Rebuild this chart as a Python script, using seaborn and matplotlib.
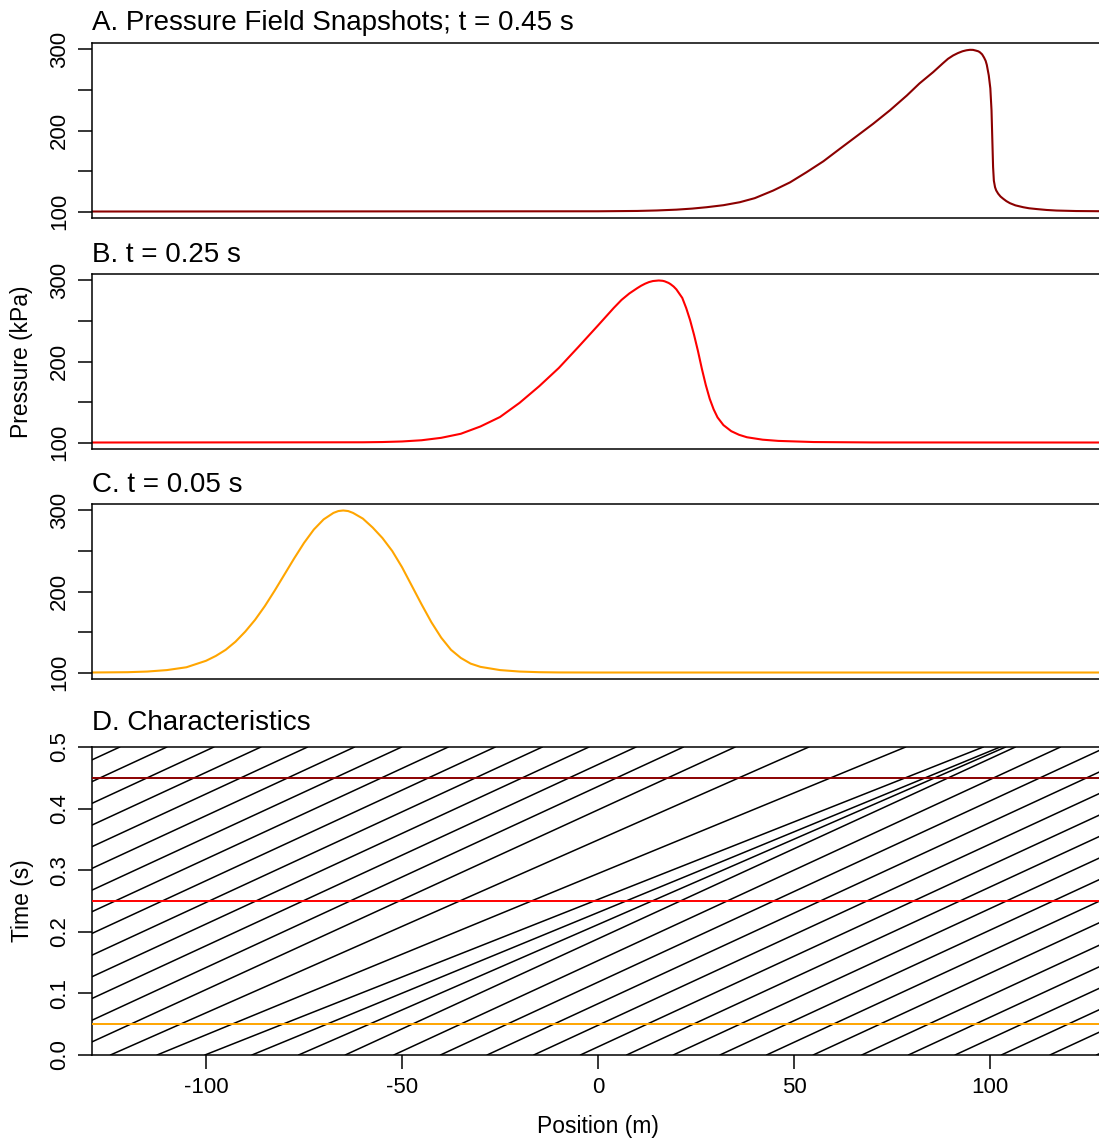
import numpy as np
import pandas as pd
import matplotlib
matplotlib.use("Agg")
import matplotlib.pyplot as plt
import seaborn as sns

# ---------------- data ----------------
# Panel A: t = 0.45 s
x_a = [-130, 0, 10, 15, 20, 24, 27.7, 32, 36.2, 40, 44.7, 49, 53.2, 57.5, 61.7, 66, 70.2,
       74.5, 78.8, 82, 85.5, 88, 89.3, 90.6, 91.8, 93, 94, 94.9, 95.7, 96.5, 97.0, 97.4,
       98.0, 98.5, 98.9, 99.2, 99.7, 100.1, 100.4, 100.6, 100.8, 101.0, 101.3, 101.6,
       102.1, 102.7, 103.4, 104.2, 105.1, 106.5, 108.5, 110, 112, 114.5, 117, 122, 130]
p_a = [100.0, 100.3, 100.7, 101.3, 102.3, 103.6, 105.3, 107.8, 111.5, 116.5, 125.9, 136,
       148.5, 162, 177.4, 193, 208.3, 225, 243.2, 258, 272, 283, 288.5, 292.6, 295.5,
       297.8, 299, 299.6, 299.5, 298.5, 297.8, 296.7, 294, 290, 286, 281, 268, 252, 225,
       190, 155, 138, 130, 126, 122, 118.5, 115.7, 112.8, 110.3, 107.6, 105.3, 104, 103,
       101.9, 101.2, 100.6, 100.3]

# Panel B: t = 0.25 s
x_b = [-130, -60, -55, -50, -45, -40, -35, -30, -25, -20, -15, -10, -5, 0, 4, 6, 8, 10,
       11, 12, 13, 14, 15.5, 16.5, 17, 18, 18.5, 19.3, 20, 21.5, 22.5, 23.5, 24.5, 25.5,
       26.5, 27.5, 28.5, 29.5, 30.5, 32, 34, 36, 38, 42, 46, 55, 70, 130]
p_b = [100.0, 100.3, 100.6, 101.3, 102.8, 105.8, 110.8, 119.8, 131.5, 149, 169.5, 192,
       218, 244.5, 266, 276, 284, 290.5, 293.5, 296, 298, 299.3, 300, 299.6, 299, 297,
       295.5, 292.5, 289, 278.5, 266, 251, 233, 213, 191, 171, 154, 141, 131, 121.5, 114,
       109.5, 106.5, 103.5, 102.0, 100.6, 100.1, 100.0]

# Panel C: t = 0.05 s
x_c = [-130, -120, -115, -110, -105, -100, -97.5, -95, -92.5, -90, -87.5, -85, -82.5, -80,
       -77.5, -75, -72.5, -70, -67.5, -66.25, -65, -63.75, -62.5, -60, -57.5, -55, -52.5,
       -50, -47.5, -45, -42.5, -40, -37.5, -35, -32.5, -30, -25, -20, -15, -10, 0, 130]
p_c = [100.0, 100.4, 101.2, 103.0, 106.5, 114.5, 120.5, 128, 138, 150.5, 165, 182, 201, 221,
       241, 260, 276.5, 289, 297, 299.3, 300, 299.3, 297, 290, 279, 266, 250, 230, 207,
       184, 162, 143, 128, 118, 111, 107, 103, 101.2, 100.4, 100.1, 100.0, 100.0]

# Panel D: characteristics, position at t = 0 and at t = 0.5 s
char_x0 = [-292.0, -280.0, -268.0, -256.0, -244.1, -232.1, -220.1, -208.2, -196.2, -184.2,
           -172.3, -160.3, -148.3, -136.4, -124.4, -112.5, -100.3, -88.3, -76.4, -64.5,
           -52.1, -40.2, -28.3, -16.4, -4.5, 7.3, 19.2, 31.1, 43.0, 54.9, 67.3, 79.2, 91.1,
           102.9, 115.3, 127.2]
char_x_end = [-122.0, -110.0, -98.0, -86.0, -74.1, -62.1, -50.1, -38.2, -26.2, -14.2,
              -2.3, 9.7, 21.8, 35.0, 53.8, 78.5, 98.3, 102.6, 104.0, 106.5, 118.0, 129.8,
              141.7, 153.6, 165.5, 177.3, 189.2, 201.1, 213.0, 224.9, 237.3, 249.2, 261.1,
              272.9, 285.3, 297.2]
t_start, t_end = 0.0, 0.5

snap_times = [0.45, 0.25, 0.05]
snap_colors = ["#8B0000", "#FF0000", "#FFA500"]
titles = ["A. Pressure Field Snapshots; t = 0.45 s", "B. t = 0.25 s", "C. t = 0.05 s"]
p_ticks = [100, 150, 200, 250, 300]
p_ticklabels = ["100", "", "200", "", "300"]
x_ticks = [-100, -50, 0, 50, 100]
t_ticks = [0.0, 0.1, 0.2, 0.3, 0.4, 0.5]

# ---------------- style ----------------
sns.set_style("ticks")
plt.rcParams["font.family"] = ["Liberation Sans", "DejaVu Sans"]
plt.rcParams["axes.edgecolor"] = "black"
plt.rcParams["axes.linewidth"] = 1.1
plt.rcParams["xtick.color"] = "black"
plt.rcParams["ytick.color"] = "black"
plt.rcParams["xtick.labelcolor"] = "black"
plt.rcParams["ytick.labelcolor"] = "black"
plt.rcParams["text.color"] = "black"
plt.rcParams["axes.labelcolor"] = "black"
plt.rcParams["axes.titlecolor"] = "black"

W, H = 1099, 1142
fig = plt.figure(figsize=(W / 100, H / 100), dpi=100)

left = 92 / W
width = 1012 / W
XLIM = (-129.1, 129.1)
TICK_FS = 16
LAB_FS = 16.5
TITLE_FS = 20


def frac(top_px, bottom_px):
    return [left, 1 - bottom_px / H, width, (bottom_px - top_px) / H]


panel_px = [(43, 218), (274, 449), (504, 679)]
curves = [(x_a, p_a), (x_b, p_b), (x_c, p_c)]

for i in range(3):
    ax = fig.add_axes(frac(*panel_px[i]))
    xs, ps = curves[i]
    sns.lineplot(x=xs, y=ps, ax=ax, color=snap_colors[i], lw=1.5,
                 sort=False, estimator=None)
    ax.set_xlim(*XLIM)
    ax.set_ylim(92, 308)
    ax.set_xticks([])
    ax.set_yticks(p_ticks)
    ax.set_yticklabels(p_ticklabels, rotation=90, va="center")
    ax.tick_params(axis="y", direction="out", length=10, width=1.1,
                   labelsize=TICK_FS, pad=6)
    for s in ax.spines.values():
        s.set_visible(True)
        s.set_linewidth(1.1)
    ax.set_title(titles[i], loc="left", fontsize=TITLE_FS, pad=9)
    ax.set_xlabel("")
    if i == 1:
        ax.set_ylabel("Pressure (kPa)", fontsize=LAB_FS, ha="center", va="center")
        ax.yaxis.set_label_coords((22 - 92) / 1012, 0.5)
    else:
        ax.set_ylabel("")

# ---------------- characteristics ----------------
axd = fig.add_axes(frac(747, 1055))
rows = []
for k, (a, b) in enumerate(zip(char_x0, char_x_end)):
    rows.append({"line": k, "x": a, "t": t_start})
    rows.append({"line": k, "x": b, "t": t_end})
df = pd.DataFrame(rows)
sns.lineplot(data=df, x="x", y="t", units="line", estimator=None, sort=False,
             color="black", lw=1.1, ax=axd)
for tt, cc in zip(snap_times, snap_colors):
    axd.axhline(tt, color=cc, lw=1.4, zorder=3)
axd.set_xlim(*XLIM)
axd.set_ylim(0, 0.5)
axd.set_xticks(x_ticks)
axd.set_xticklabels([str(v) for v in x_ticks])
axd.set_yticks(t_ticks)
axd.set_yticklabels([f"{v:.1f}" for v in t_ticks], rotation=90, va="center")
axd.tick_params(direction="out", length=10, width=1.1, labelsize=TICK_FS, pad=6)
for s in axd.spines.values():
    s.set_visible(True)
    s.set_linewidth(1.1)
axd.set_title("D. Characteristics", loc="left", fontsize=TITLE_FS, pad=12)
axd.set_ylabel("Time (s)", fontsize=LAB_FS, ha="center", va="center")
axd.yaxis.set_label_coords((22 - 92) / 1012, 0.5)
axd.set_xlabel("Position (m)", fontsize=LAB_FS, ha="center", va="center")
axd.xaxis.set_label_coords((598 - 92) / 1012, -(1127 - 1055) / 308)

fig.savefig("out.png", dpi=100)
